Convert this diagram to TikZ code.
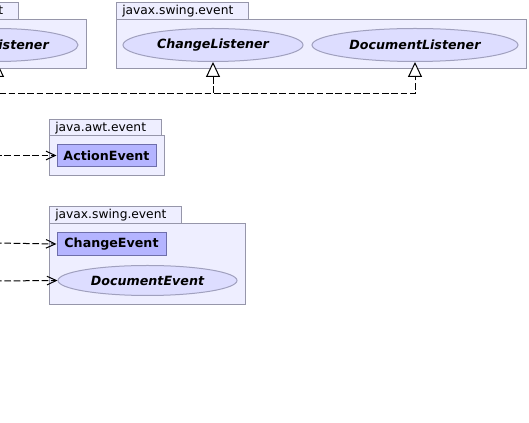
\documentclass[tikz,border=0pt]{standalone}
\usepackage{fontspec}
\setmainfont{DejaVu Sans}
\usetikzlibrary{arrows.meta,shapes.geometric}
\definecolor{pkgfill}{RGB}{238,238,255}
\definecolor{pkgline}{RGB}{150,150,170}
\definecolor{clsfill}{RGB}{180,180,255}
\definecolor{clsline}{RGB}{110,110,170}
\definecolor{iffill}{RGB}{221,221,255}
\definecolor{ifline}{RGB}{160,160,190}
\begin{document}
\begin{tikzpicture}[x=0.75pt,y=-0.75pt,
 pkg/.style={draw=pkgline,fill=pkgfill,line width=0.75pt},
 pkglabel/.style={anchor=west,inner sep=0pt,font=\fontsize{9.2}{11}\selectfont},
 cls/.style={draw=clsline,fill=clsfill,line width=0.75pt,inner sep=0pt,minimum height=16.5pt,font=\fontsize{9.5}{11}\selectfont\bfseries},
 iface/.style={ellipse,draw=ifline,fill=iffill,line width=0.75pt,inner sep=0pt,minimum height=24.75pt,font=\fontsize{9.5}{11}\selectfont\bfseries\itshape},
 dep/.style={draw=black,line width=0.75pt,dash pattern=on 5pt off 2pt,-{Straight Barb[length=7pt,width=6.5pt]}},
 impl/.style={draw=black,line width=0.75pt,dash pattern=on 5pt off 2pt,-{Triangle[open,length=11.25pt,width=10.5pt,fill=white]}}]

\useasboundingbox (0,0) rectangle (529,423);
\clip (0,0) rectangle (529,423);

% packages
\draw[pkg] (-99,3) rectangle (18,20);
\draw[pkg] (-99,20) rectangle (86,69);
\node[pkglabel] (p1) at (-88,11.5) {java.awt.event};

\draw[pkg] (116,3) rectangle (248,20);
\draw[pkg] (116,20) rectangle (526,69);
\node[pkglabel] (p2) at (122,11.5) {javax.swing.event};

\draw[pkg] (49,120) rectangle (161,136);
\draw[pkg] (49,136) rectangle (164,176);
\node[pkglabel] (p3) at (55,128) {java.awt.event};

\draw[pkg] (49,207) rectangle (181,224);
\draw[pkg] (49,224) rectangle (245,305);
\node[pkglabel] (p4) at (55,215.5) {javax.swing.event};

% interfaces
\node[iface,minimum width=121.5pt] (al) at (-3,45) {ActionListener};
\node[iface,minimum width=135pt] (cl) at (213,45) {ChangeListener};
\node[iface,minimum width=154.5pt] (dl) at (415,45) {DocumentListener};
\node[iface,minimum width=134.25pt,minimum height=22.5pt] (de) at (147.5,280.5) {DocumentEvent};

% classes
\node[cls,minimum width=74.25pt] (ae) at (106.5,155.5) {ActionEvent};
\node[cls,minimum width=81.75pt,minimum height=17.25pt] (ce) at (111.5,244) {ChangeEvent};

% connectors
\coordinate (src) at (-10,94);
\coordinate (src2) at (-3,110);
\draw[impl] (src) -| (cl.south);
\draw[impl] (src) -| (dl.south);
\draw[impl] (src2) -- (al.south);

\coordinate (s3) at (-5,155.5);
\coordinate (s4) at (-5,243);
\coordinate (s5) at (-5,281);
\draw[dep] (s3) -- (ae.west);
\draw[dep] (s4) -- (ce.west);
\draw[dep] (s5) -- (de.west);
\end{tikzpicture}
\end{document}
